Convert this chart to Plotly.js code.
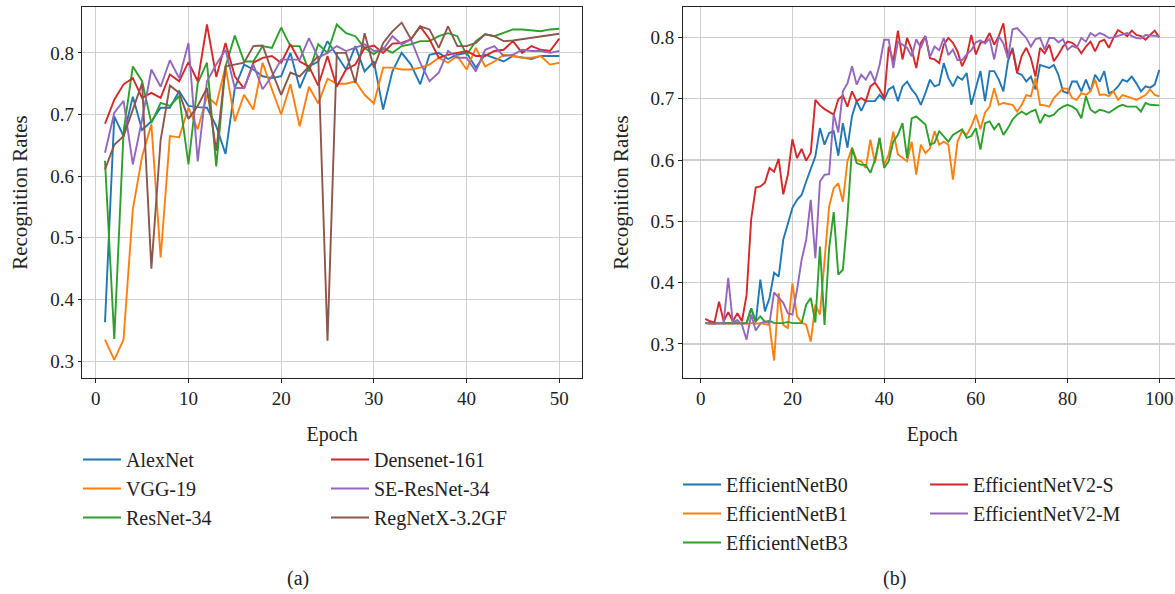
<!DOCTYPE html>
<html>
<head>
<meta charset="utf-8">
<script src="https://cdn.plot.ly/plotly-3.0.1.min.js"></script>
<style>
  html, body { margin: 0; padding: 0; background: #ffffff; overflow: hidden; }
  #chart { width: 1190px; height: 594px; }
</style>
</head>
<body>
<div id="chart"></div>
<script>
// ---------------- Data: panel (a), epochs 1..50 ----------------
const epochsA = Array.from({length: 50}, (_, i) => i + 1);

const alexNet = [0.363,0.697,0.665,0.729,0.675,0.689,0.711,0.711,0.738,0.714,
  0.712,0.711,0.681,0.636,0.743,0.781,0.773,0.762,0.759,0.762,
  0.800,0.743,0.778,0.786,0.819,0.797,0.773,0.811,0.770,0.786,
  0.708,0.770,0.800,0.781,0.749,0.797,0.800,0.790,0.797,0.800,
  0.776,0.797,0.792,0.786,0.795,0.792,0.790,0.795,0.795,0.795];

const vgg19 = [0.335,0.302,0.335,0.546,0.632,0.684,0.468,0.665,0.663,0.711,
  0.676,0.730,0.716,0.778,0.689,0.732,0.708,0.784,0.741,0.700,
  0.749,0.681,0.745,0.718,0.758,0.750,0.750,0.754,0.732,0.718,
  0.776,0.776,0.773,0.773,0.776,0.781,0.792,0.784,0.795,0.773,
  0.808,0.778,0.786,0.797,0.795,0.792,0.792,0.795,0.781,0.784];

const resNet34 = [0.625,0.336,0.672,0.778,0.754,0.686,0.719,0.714,0.730,0.619,
  0.751,0.784,0.616,0.778,0.828,0.786,0.786,0.811,0.808,0.841,
  0.811,0.811,0.770,0.814,0.800,0.846,0.832,0.827,0.808,0.798,
  0.808,0.800,0.811,0.814,0.819,0.819,0.827,0.832,0.827,0.797,
  0.819,0.830,0.827,0.832,0.838,0.838,0.837,0.835,0.838,0.839];

const densenet161 = [0.685,0.724,0.749,0.759,0.727,0.735,0.727,0.765,0.754,0.785,
  0.754,0.846,0.761,0.816,0.762,0.742,0.784,0.792,0.795,0.784,
  0.814,0.786,0.778,0.747,0.795,0.745,0.773,0.781,0.808,0.812,
  0.800,0.815,0.816,0.822,0.843,0.822,0.792,0.797,0.800,0.803,
  0.795,0.795,0.803,0.805,0.819,0.800,0.811,0.805,0.803,0.823];

const seResNet34 = [0.638,0.703,0.722,0.619,0.692,0.773,0.745,0.788,0.759,0.816,
  0.624,0.754,0.781,0.805,0.743,0.743,0.781,0.741,0.762,0.789,
  0.789,0.789,0.824,0.792,0.800,0.811,0.803,0.808,0.814,0.803,
  0.805,0.827,0.814,0.822,0.784,0.754,0.768,0.803,0.792,0.792,
  0.770,0.805,0.811,0.795,0.797,0.805,0.803,0.803,0.800,0.803];

const regNetX = [0.611,0.651,0.665,0.708,0.751,0.450,0.659,0.747,0.735,0.693,
  0.714,0.743,0.641,0.778,0.781,0.784,0.811,0.812,0.770,0.732,
  0.768,0.762,0.778,0.795,0.333,0.800,0.800,0.751,0.832,0.776,
  0.816,0.835,0.849,0.822,0.843,0.838,0.808,0.843,0.811,0.811,
  0.816,0.830,0.827,0.819,0.820,0.822,0.824,0.827,0.829,0.831];

// ---------------- Data: panel (b), epochs 1..100 ----------------
const epochsB = Array.from({length: 100}, (_, i) => i + 1);

const effB0 = [0.334,0.333,0.333,0.334,0.333,0.334,0.333,0.334,0.333,0.334,
  0.358,0.335,0.405,0.353,0.375,0.416,0.410,0.470,0.497,0.522,
  0.535,0.543,0.565,0.584,0.606,0.652,0.625,0.644,0.647,0.607,
  0.660,0.620,0.672,0.696,0.680,0.696,0.696,0.696,0.706,0.698,
  0.715,0.720,0.696,0.720,0.728,0.715,0.706,0.690,0.709,0.731,
  0.720,0.723,0.758,0.734,0.720,0.736,0.731,0.742,0.690,0.717,
  0.745,0.696,0.745,0.745,0.731,0.712,0.761,0.783,0.742,0.739,
  0.728,0.736,0.715,0.755,0.752,0.750,0.755,0.739,0.712,0.709,
  0.728,0.728,0.712,0.731,0.712,0.739,0.728,0.745,0.709,0.712,
  0.720,0.731,0.728,0.736,0.725,0.712,0.720,0.718,0.723,0.747];

const effB1 = [0.334,0.333,0.334,0.333,0.334,0.333,0.334,0.333,0.334,0.333,
  0.334,0.333,0.334,0.333,0.331,0.273,0.383,0.331,0.326,0.399,
  0.345,0.335,0.331,0.304,0.364,0.348,0.432,0.524,0.554,0.562,
  0.532,0.598,0.620,0.600,0.598,0.587,0.633,0.595,0.636,0.592,
  0.609,0.646,0.609,0.603,0.598,0.630,0.576,0.625,0.611,0.619,
  0.647,0.625,0.630,0.625,0.568,0.630,0.647,0.641,0.655,0.674,
  0.650,0.677,0.687,0.717,0.690,0.693,0.692,0.690,0.679,0.690,
  0.706,0.704,0.734,0.690,0.689,0.687,0.701,0.709,0.717,0.716,
  0.701,0.698,0.709,0.706,0.712,0.731,0.706,0.707,0.704,0.712,
  0.698,0.706,0.704,0.701,0.698,0.702,0.706,0.715,0.706,0.704];

const effB3 = [0.334,0.334,0.333,0.334,0.334,0.333,0.334,0.334,0.333,0.334,
  0.358,0.337,0.345,0.336,0.338,0.334,0.334,0.334,0.336,0.334,
  0.334,0.334,0.364,0.375,0.335,0.459,0.331,0.456,0.515,0.413,
  0.421,0.508,0.620,0.595,0.592,0.592,0.579,0.600,0.636,0.587,
  0.598,0.630,0.641,0.660,0.603,0.668,0.671,0.665,0.658,0.625,
  0.628,0.647,0.639,0.630,0.641,0.645,0.650,0.636,0.639,0.652,
  0.617,0.660,0.663,0.650,0.660,0.641,0.652,0.666,0.674,0.679,
  0.674,0.679,0.682,0.660,0.674,0.671,0.674,0.682,0.687,0.690,
  0.687,0.682,0.668,0.704,0.682,0.677,0.682,0.680,0.677,0.682,
  0.687,0.690,0.687,0.687,0.687,0.679,0.693,0.690,0.689,0.689];

const effV2S = [0.341,0.337,0.335,0.369,0.337,0.352,0.337,0.350,0.337,0.380,
  0.503,0.555,0.557,0.563,0.587,0.581,0.602,0.544,0.576,0.634,
  0.603,0.618,0.599,0.612,0.698,0.689,0.683,0.679,0.674,0.699,
  0.705,0.687,0.712,0.696,0.701,0.696,0.720,0.726,0.715,0.701,
  0.785,0.761,0.811,0.764,0.799,0.780,0.750,0.791,0.802,0.766,
  0.764,0.758,0.788,0.799,0.791,0.777,0.753,0.769,0.804,0.772,
  0.791,0.793,0.807,0.788,0.802,0.823,0.766,0.780,0.742,0.770,
  0.783,0.766,0.736,0.783,0.774,0.788,0.761,0.772,0.785,0.793,
  0.791,0.785,0.774,0.785,0.793,0.777,0.793,0.796,0.783,0.799,
  0.812,0.807,0.802,0.811,0.804,0.802,0.796,0.804,0.811,0.800];

const effV2M = [0.334,0.333,0.333,0.334,0.334,0.408,0.335,0.339,0.331,0.307,
  0.348,0.322,0.333,0.337,0.334,0.384,0.375,0.367,0.350,0.348,
  0.388,0.437,0.470,0.535,0.440,0.565,0.576,0.577,0.675,0.645,
  0.712,0.725,0.753,0.723,0.739,0.731,0.745,0.728,0.755,0.796,
  0.796,0.750,0.793,0.788,0.783,0.769,0.797,0.783,0.802,0.768,
  0.785,0.779,0.799,0.771,0.780,0.763,0.763,0.772,0.779,0.792,
  0.795,0.790,0.798,0.764,0.802,0.790,0.766,0.813,0.815,0.807,
  0.799,0.785,0.797,0.799,0.780,0.799,0.799,0.792,0.797,0.780,
  0.786,0.783,0.799,0.793,0.807,0.802,0.807,0.804,0.799,0.800,
  0.802,0.804,0.807,0.802,0.799,0.798,0.804,0.803,0.802,0.802];

// ---------------- Styling ----------------
const FONT = '"Liberation Serif", "DejaVu Serif", serif';
const C = {blue:'#1f77b4', orange:'#ff7f0e', green:'#2ca02c', red:'#d62728', purple:'#9467bd', brown:'#8c564b'};
const W = 1190, H = 594;
const LW = 1.9;

function tr(x, y, name, color, xa, ya, legend) {
  return {x: x, y: y, name: name, type: 'scatter', mode: 'lines',
    line: {color: color, width: LW}, xaxis: xa, yaxis: ya, legend: legend};
}

const traces = [
  tr(epochsA, alexNet, 'AlexNet', C.blue, 'x', 'y', 'legend'),
  tr(epochsA, vgg19, 'VGG-19', C.orange, 'x', 'y', 'legend'),
  tr(epochsA, resNet34, 'ResNet-34', C.green, 'x', 'y', 'legend'),
  tr(epochsA, densenet161, 'Densenet-161', C.red, 'x', 'y', 'legend2'),
  tr(epochsA, seResNet34, 'SE-ResNet-34', C.purple, 'x', 'y', 'legend2'),
  tr(epochsA, regNetX, 'RegNetX-3.2GF', C.brown, 'x', 'y', 'legend2'),
  tr(epochsB, effB0, 'EfficientNetB0', C.blue, 'x2', 'y2', 'legend3'),
  tr(epochsB, effB1, 'EfficientNetB1', C.orange, 'x2', 'y2', 'legend3'),
  tr(epochsB, effB3, 'EfficientNetB3', C.green, 'x2', 'y2', 'legend3'),
  tr(epochsB, effV2S, 'EfficientNetV2-S', C.red, 'x2', 'y2', 'legend4'),
  tr(epochsB, effV2M, 'EfficientNetV2-M', C.purple, 'x2', 'y2', 'legend4')
];

const px = v => v / W;
const py = v => 1 - v / H;

function xAxis(d0, d1, range, dtick, anchor) {
  return {domain: [px(d0), px(d1)], range: range, anchor: anchor,
    tick0: 0, dtick: dtick, showgrid: true, gridcolor: '#cfcfcf', gridwidth: 1.2,
    zeroline: false, showline: true, mirror: true, linecolor: '#222', linewidth: 1,
    ticks: 'outside', ticklen: 3.5, tickcolor: '#222', tickwidth: 1,
    tickfont: {family: FONT, size: 19, color: '#222'},
    title: {text: 'Epoch', font: {family: FONT, size: 20, color: '#222'}, standoff: 18}};
}
function yAxis(range, anchor) {
  return {domain: [py(378), py(7)], range: range, anchor: anchor,
    tick0: 0.3, dtick: 0.1, tickformat: '.1f', showgrid: true, gridcolor: '#cfcfcf', gridwidth: 1.2,
    zeroline: false, showline: true, mirror: true, linecolor: '#222', linewidth: 1,
    ticks: 'outside', ticklen: 3.5, tickcolor: '#222', tickwidth: 1,
    tickfont: {family: FONT, size: 19, color: '#222'},
    title: {text: 'Recognition Rates', font: {family: FONT, size: 21, color: '#222'}, standoff: 16}};
}
function legendAt(xLeft, yTop) {
  return {x: px(xLeft), y: py(yTop), xanchor: 'left', yanchor: 'top',
    orientation: 'v', bgcolor: 'rgba(0,0,0,0)', borderwidth: 0,
    font: {family: FONT, size: 20, color: '#222'}, itemwidth: 38, tracegroupgap: 0};
}

const layout = {
  width: W, height: H,
  margin: {l: 0, r: 0, t: 0, b: 0},
  paper_bgcolor: '#ffffff', plot_bgcolor: '#ffffff',
  font: {family: FONT, color: '#222'},
  showlegend: true,
  xaxis: xAxis(82.3, 582, [-1.45, 52.45], 10, 'y'),
  yaxis: yAxis([0.2726, 0.8744], 'x'),
  xaxis2: xAxis(682.6, 1182, [-3.95, 104.95], 20, 'y2'),
  yaxis2: yAxis([0.2445, 0.8495], 'x2'),
  legend: legendAt(78, 440),
  legend2: legendAt(326, 440),
  legend3: legendAt(678, 465),
  legend4: legendAt(925, 465),
  annotations: [
    {text: '(a)', x: px(298), y: py(578), xref: 'paper', yref: 'paper', showarrow: false,
     xanchor: 'center', yanchor: 'middle', font: {family: FONT, size: 20, color: '#222'}},
    {text: '(b)', x: px(894), y: py(578), xref: 'paper', yref: 'paper', showarrow: false,
     xanchor: 'center', yanchor: 'middle', font: {family: FONT, size: 20, color: '#222'}}
  ]
};

Plotly.newPlot('chart', traces, layout, {displayModeBar: false, responsive: false, staticPlot: true});
</script>
</body>
</html>
